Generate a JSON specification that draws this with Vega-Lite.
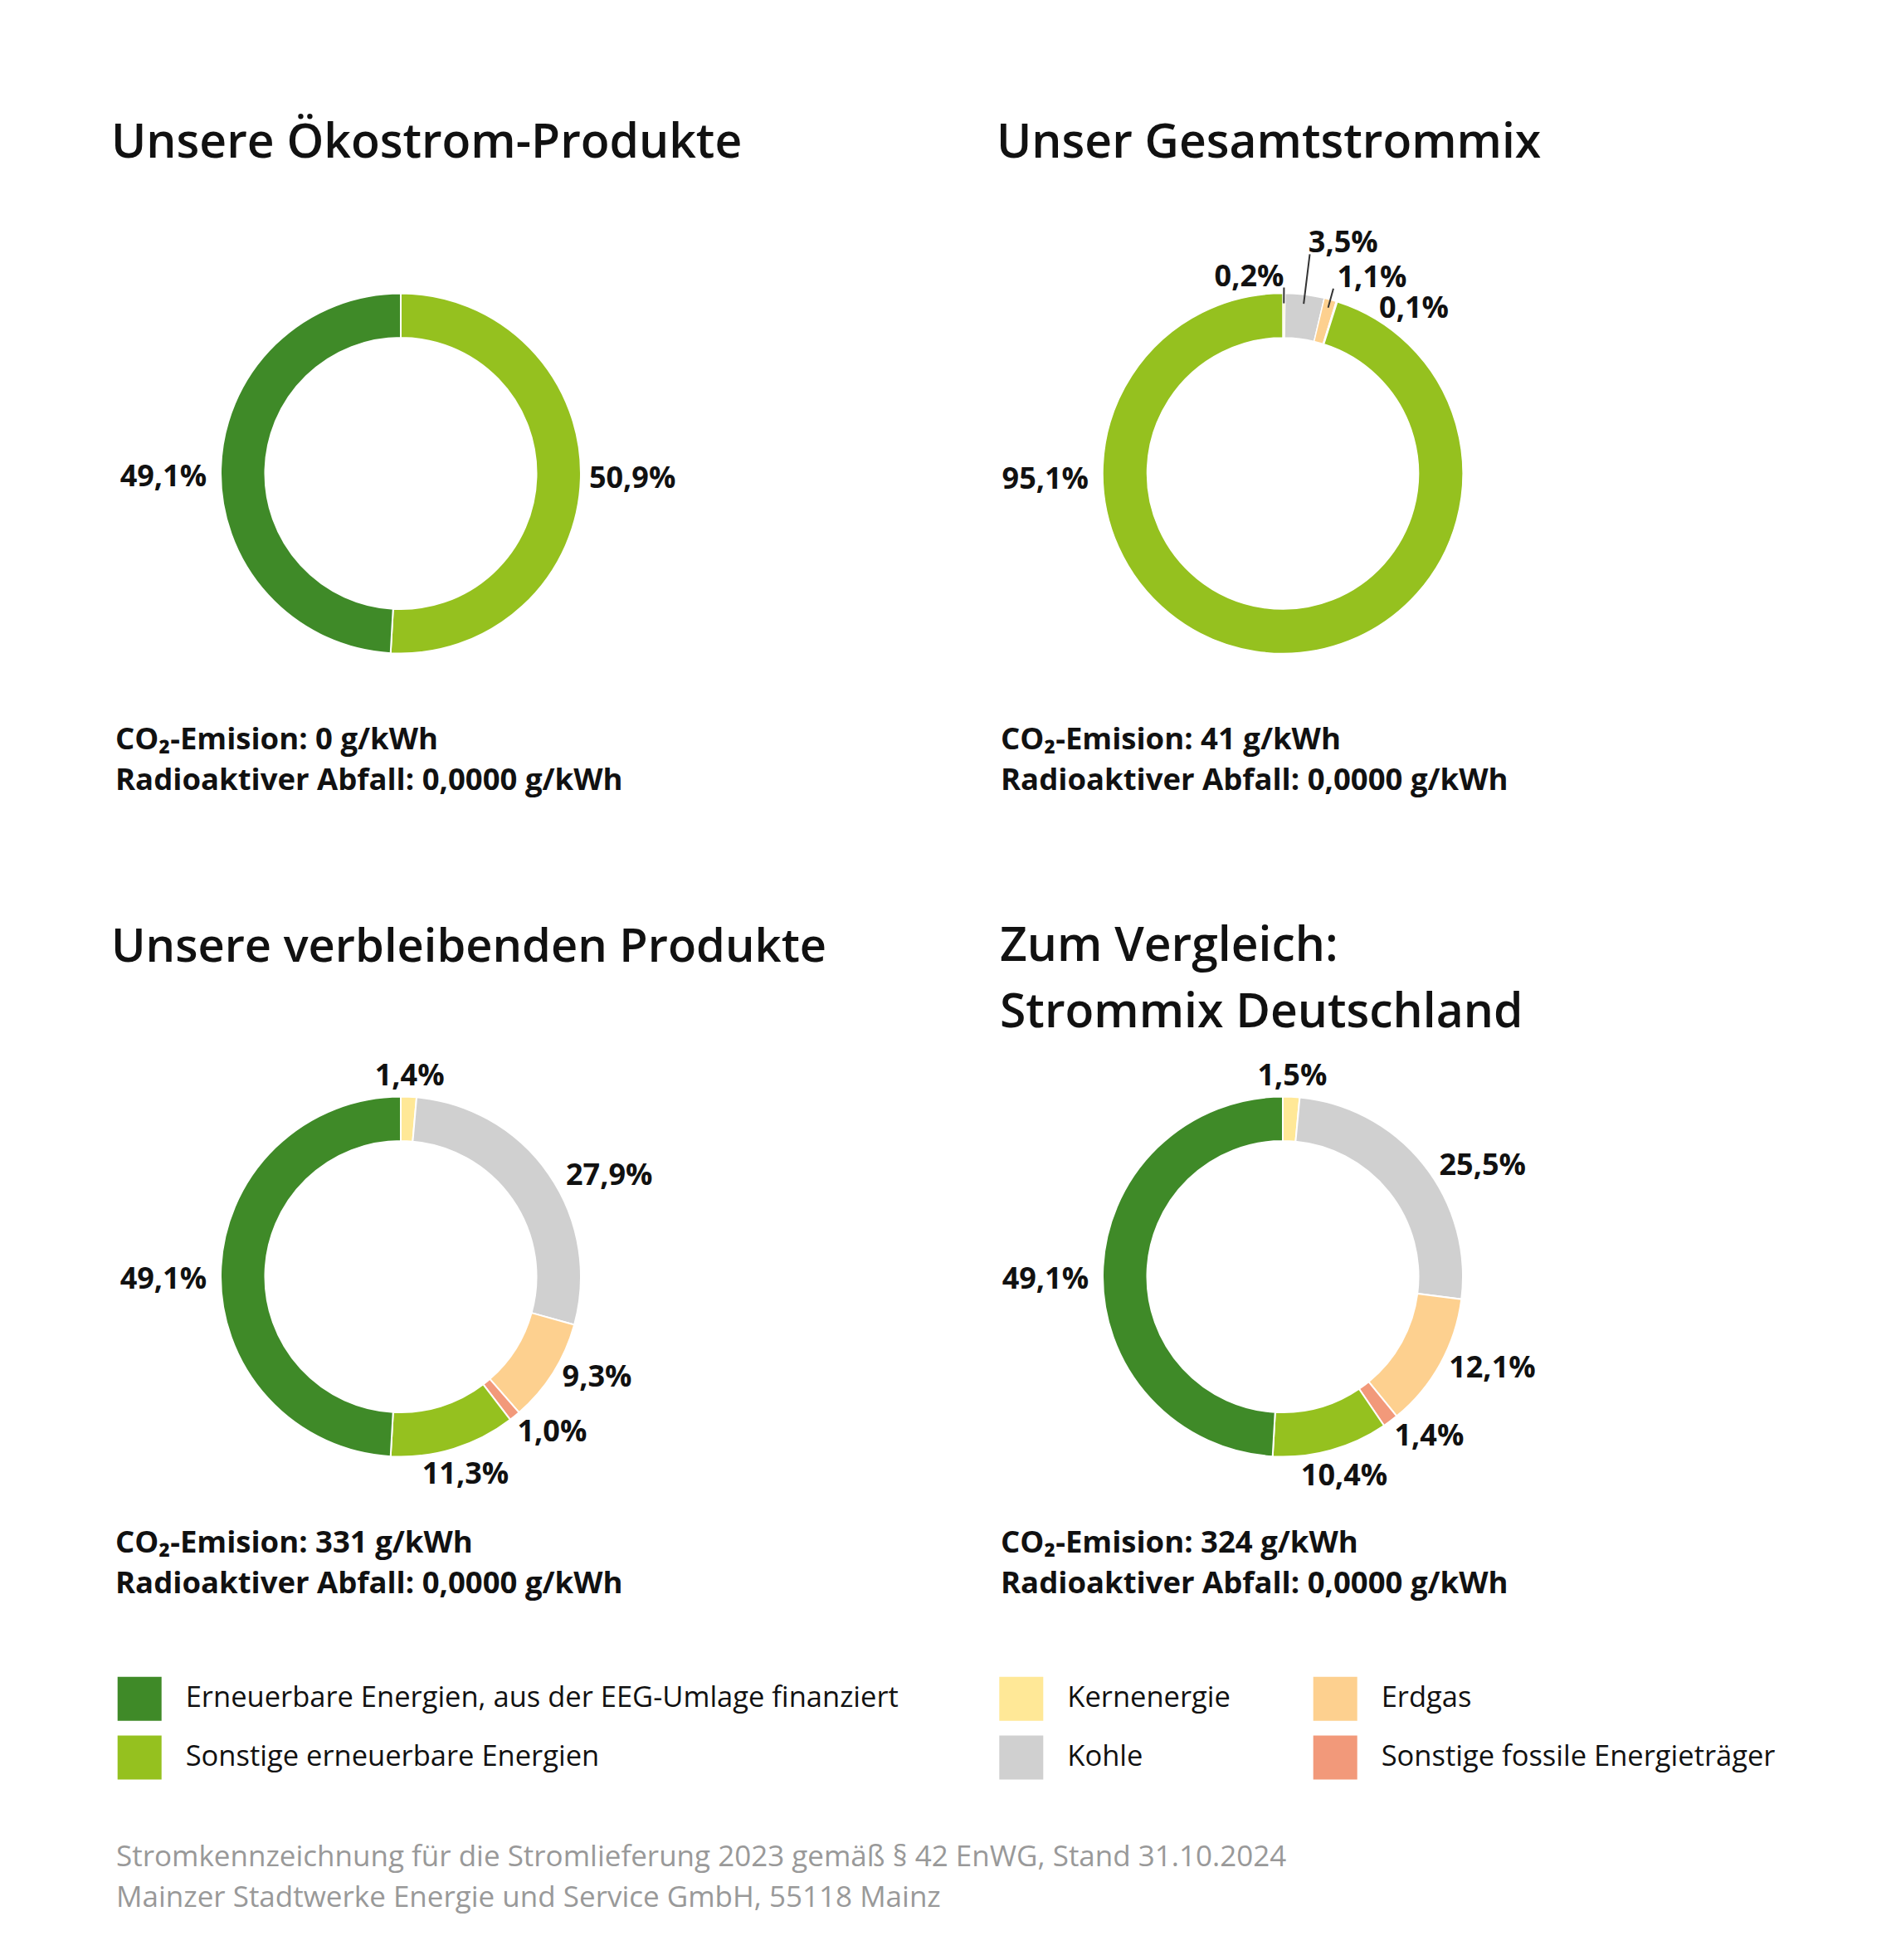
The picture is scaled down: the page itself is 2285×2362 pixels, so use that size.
{
  "$schema": "https://vega.github.io/schema/vega-lite/v6.json",
  "background": "white",
  "padding": {"left": 134, "top": 143.5, "right": 150, "bottom": 40},
  "config": {
    "view": {"stroke": null},
    "font": "Open Sans",
    "title": {"font": "Open Sans", "color": "#111111"},
    "text": {"font": "Open Sans"}
  },
  "title": {"text": ["Stromkennzeichnung für die Stromlieferung 2023 gemäß § 42 EnWG, Stand 31.10.2024", "Mainzer Stadtwerke Energie und Service GmbH, 55118 Mainz"], "orient": "bottom", "anchor": "start", "frame": "group", "baseline": "alphabetic", "fontSize": 35, "fontWeight": "normal", "color": "#999999", "lineHeight": 49, "offset": 104, "dx": 2},
  "datasets": {
    "p1": [
      {"cat": "Sonstige erneuerbare Energien", "k": "son", "v": 50.9, "o": 5, "label": "50,9%"},
      {"cat": "Erneuerbare Energien, aus der EEG-Umlage finanziert", "k": "eeg", "v": 49.1, "o": 6, "label": "49,1%"}
    ],
    "p2": [
      {"cat": "Kernenergie", "k": "kern", "v": 0.2, "o": 1, "label": "0,2%"},
      {"cat": "Kohle", "k": "kohle", "v": 3.5, "o": 2, "label": "3,5%"},
      {"cat": "Erdgas", "k": "gas", "v": 1.1, "o": 3, "label": "1,1%"},
      {"cat": "Sonstige fossile Energieträger", "k": "fos", "v": 0.1, "o": 4, "label": "0,1%"},
      {"cat": "Sonstige erneuerbare Energien", "k": "son", "v": 95.1, "o": 5, "label": "95,1%"}
    ],
    "p3": [
      {"cat": "Kernenergie", "k": "kern", "v": 1.4, "o": 1, "label": "1,4%"},
      {"cat": "Kohle", "k": "kohle", "v": 27.9, "o": 2, "label": "27,9%"},
      {"cat": "Erdgas", "k": "gas", "v": 9.3, "o": 3, "label": "9,3%"},
      {"cat": "Sonstige fossile Energieträger", "k": "fos", "v": 1.0, "o": 4, "label": "1,0%"},
      {"cat": "Sonstige erneuerbare Energien", "k": "son", "v": 11.3, "o": 5, "label": "11,3%"},
      {"cat": "Erneuerbare Energien, aus der EEG-Umlage finanziert", "k": "eeg", "v": 49.1, "o": 6, "label": "49,1%"}
    ],
    "p4": [
      {"cat": "Kernenergie", "k": "kern", "v": 1.5, "o": 1, "label": "1,5%"},
      {"cat": "Kohle", "k": "kohle", "v": 25.5, "o": 2, "label": "25,5%"},
      {"cat": "Erdgas", "k": "gas", "v": 12.1, "o": 3, "label": "12,1%"},
      {"cat": "Sonstige fossile Energieträger", "k": "fos", "v": 1.4, "o": 4, "label": "1,4%"},
      {"cat": "Sonstige erneuerbare Energien", "k": "son", "v": 10.4, "o": 5, "label": "10,4%"},
      {"cat": "Erneuerbare Energien, aus der EEG-Umlage finanziert", "k": "eeg", "v": 49.1, "o": 6, "label": "49,1%"}
    ],
    "e1": [{"co2": "CO₂-Emision: 0 g/kWh", "abfall": "Radioaktiver Abfall: 0,0000 g/kWh"}],
    "e2": [{"co2": "CO₂-Emision: 41 g/kWh", "abfall": "Radioaktiver Abfall: 0,0000 g/kWh"}],
    "e3": [{"co2": "CO₂-Emision: 331 g/kWh", "abfall": "Radioaktiver Abfall: 0,0000 g/kWh"}],
    "e4": [{"co2": "CO₂-Emision: 324 g/kWh", "abfall": "Radioaktiver Abfall: 0,0000 g/kWh"}]
  },
  "resolve": {"scale": {"color": "independent", "theta": "independent"}, "legend": {"color": "independent"}},
  "bounds": "flush",
  "columns": 2,
  "spacing": {"row": 368, "column": 373},
  "concat": [
    {
      "width": 690, "height": 600,
      "data": {"name": "p1"},
      "title": {"text": "Unsere Ökostrom-Produkte", "orient": "top", "anchor": "start", "frame": "group", "baseline": "alphabetic", "fontSize": 57, "fontWeight": 600, "dx": -4, "offset": 24},
      "layer": [
        {"mark": {"type": "arc", "innerRadius": 163.5, "outerRadius": 217, "stroke": "#ffffff", "strokeWidth": 2},
         "encoding": {"theta": {"field": "v", "type": "quantitative", "stack": true}, "order": {"field": "o", "type": "quantitative"},
           "color": {"field": "cat", "type": "nominal",
             "scale": {"domain": ["Erneuerbare Energien, aus der EEG-Umlage finanziert", "Sonstige erneuerbare Energien", "Kernenergie", "Kohle", "Erdgas", "Sonstige fossile Energieträger"], "range": ["#3F8A28", "#95C11F", "#FFE897", "#D0D0D0", "#FDD08F", "#F2997A"]},
             "legend": {"orient": "none", "legendX": 3.7, "legendY": 1750.3, "values": ["Erneuerbare Energien, aus der EEG-Umlage finanziert", "Sonstige erneuerbare Energien"], "title": null, "direction": "vertical", "symbolType": "square", "symbolSize": 2809, "symbolStrokeWidth": 0, "symbolOpacity": 1, "labelFontSize": 34.5, "labelFont": "Open Sans", "labelColor": "#111111", "labelOffset": 29, "labelLimit": 2000, "rowPadding": 17.7, "padding": 0}}}},
        {"mark": {"type": "text", "radius": 230, "align": "left", "baseline": "middle", "dx": -3, "dy": 0, "fontSize": 36, "fontWeight": "bold", "color": "#111111"},
         "encoding": {"theta": {"field": "v", "type": "quantitative", "stack": true}, "order": {"field": "o", "type": "quantitative"}, "detail": {"field": "k", "type": "nominal"}, "text": {"condition": {"test": "datum.k === 'son'", "field": "label", "type": "nominal"}, "value": ""}}},
        {"mark": {"type": "text", "radius": 232, "align": "right", "baseline": "middle", "dx": -2, "dy": 11, "fontSize": 36, "fontWeight": "bold", "color": "#111111"},
         "encoding": {"theta": {"field": "v", "type": "quantitative", "stack": true}, "order": {"field": "o", "type": "quantitative"}, "detail": {"field": "k", "type": "nominal"}, "text": {"condition": {"test": "datum.k === 'eeg'", "field": "label", "type": "nominal"}, "value": ""}}},
        {"data": {"name": "e1"}, "mark": {"type": "text", "align": "left", "baseline": "alphabetic", "dx": -344, "dy": 332, "fontSize": 36.5, "fontWeight": "bold", "color": "#111111"},
         "encoding": {"text": {"field": "co2", "type": "nominal"}}},
        {"data": {"name": "e1"}, "mark": {"type": "text", "align": "left", "baseline": "alphabetic", "dx": -344, "dy": 381.5, "fontSize": 36.5, "fontWeight": "bold", "color": "#111111"},
         "encoding": {"text": {"field": "abfall", "type": "nominal"}}}
      ]
    },
    {
      "width": 690, "height": 600,
      "data": {"name": "p2"},
      "title": {"text": "Unser Gesamtstrommix", "orient": "top", "anchor": "start", "frame": "group", "baseline": "alphabetic", "fontSize": 57, "fontWeight": 600, "dx": 0, "offset": 24},
      "layer": [
        {"mark": {"type": "arc", "innerRadius": 163.5, "outerRadius": 217, "stroke": "#ffffff", "strokeWidth": 1.5},
         "encoding": {"theta": {"field": "v", "type": "quantitative", "stack": true}, "order": {"field": "o", "type": "quantitative"},
           "color": {"field": "cat", "type": "nominal",
             "scale": {"domain": ["Erneuerbare Energien, aus der EEG-Umlage finanziert", "Sonstige erneuerbare Energien", "Kernenergie", "Kohle", "Erdgas", "Sonstige fossile Energieträger"], "range": ["#3F8A28", "#95C11F", "#FFE897", "#D0D0D0", "#FDD08F", "#F2997A"]},
             "legend": {"orient": "none", "legendX": 3.3, "legendY": 1750.3, "values": ["Kernenergie", "Kohle"], "title": null, "direction": "vertical", "symbolType": "square", "symbolSize": 2809, "symbolStrokeWidth": 0, "symbolOpacity": 1, "labelFontSize": 34.5, "labelFont": "Open Sans", "labelColor": "#111111", "labelOffset": 29, "labelLimit": 2000, "rowPadding": 17.7, "padding": 0}}}},
        {"mark": {"type": "arc", "innerRadius": 205, "outerRadius": 224, "padAngle": 0.6, "fillOpacity": 0, "stroke": "#333333", "strokeWidth": 2},
         "encoding": {"theta": {"field": "v", "type": "quantitative", "stack": true}, "order": {"field": "o", "type": "quantitative"}, "detail": {"field": "k", "type": "nominal"}, "strokeOpacity": {"condition": {"test": "datum.k === 'kern'", "value": 1}, "value": 0}}},
        {"mark": {"type": "arc", "innerRadius": 206, "outerRadius": 266, "padAngle": 0.6, "fillOpacity": 0, "stroke": "#333333", "strokeWidth": 2},
         "encoding": {"theta": {"field": "v", "type": "quantitative", "stack": true}, "order": {"field": "o", "type": "quantitative"}, "detail": {"field": "k", "type": "nominal"}, "strokeOpacity": {"condition": {"test": "datum.k === 'kohle'", "value": 1}, "value": 0}}},
        {"mark": {"type": "arc", "innerRadius": 207, "outerRadius": 231, "padAngle": 0.6, "fillOpacity": 0, "stroke": "#333333", "strokeWidth": 2},
         "encoding": {"theta": {"field": "v", "type": "quantitative", "stack": true}, "order": {"field": "o", "type": "quantitative"}, "detail": {"field": "k", "type": "nominal"}, "strokeOpacity": {"condition": {"test": "datum.k === 'gas'", "value": 1}, "value": 0}}},
        {"mark": {"type": "text", "radius": 226, "align": "right", "baseline": "alphabetic", "dx": 0, "fontSize": 36, "fontWeight": "bold", "color": "#111111"},
         "encoding": {"theta": {"field": "v", "type": "quantitative", "stack": true}, "order": {"field": "o", "type": "quantitative"}, "detail": {"field": "k", "type": "nominal"}, "text": {"condition": {"test": "datum.k === 'kern'", "field": "label", "type": "nominal"}, "value": ""}}},
        {"mark": {"type": "text", "radius": 268.5, "align": "left", "baseline": "alphabetic", "dx": -2, "fontSize": 36, "fontWeight": "bold", "color": "#111111"},
         "encoding": {"theta": {"field": "v", "type": "quantitative", "stack": true}, "order": {"field": "o", "type": "quantitative"}, "detail": {"field": "k", "type": "nominal"}, "text": {"condition": {"test": "datum.k === 'kohle'", "field": "label", "type": "nominal"}, "value": ""}}},
        {"mark": {"type": "text", "radius": 233, "align": "left", "baseline": "alphabetic", "dx": 4, "fontSize": 36, "fontWeight": "bold", "color": "#111111"},
         "encoding": {"theta": {"field": "v", "type": "quantitative", "stack": true}, "order": {"field": "o", "type": "quantitative"}, "detail": {"field": "k", "type": "nominal"}, "text": {"condition": {"test": "datum.k === 'gas'", "field": "label", "type": "nominal"}, "value": ""}}},
        {"mark": {"type": "text", "radius": 197, "align": "left", "baseline": "alphabetic", "dx": 57, "fontSize": 36, "fontWeight": "bold", "color": "#111111"},
         "encoding": {"theta": {"field": "v", "type": "quantitative", "stack": true}, "order": {"field": "o", "type": "quantitative"}, "detail": {"field": "k", "type": "nominal"}, "text": {"condition": {"test": "datum.k === 'fos'", "field": "label", "type": "nominal"}, "value": ""}}},
        {"mark": {"type": "text", "radius": 0, "align": "right", "baseline": "middle", "dx": -234, "dy": 7, "fontSize": 36, "fontWeight": "bold", "color": "#111111"},
         "encoding": {"theta": {"field": "v", "type": "quantitative", "stack": true}, "order": {"field": "o", "type": "quantitative"}, "detail": {"field": "k", "type": "nominal"}, "text": {"condition": {"test": "datum.k === 'son'", "field": "label", "type": "nominal"}, "value": ""}}},
        {"data": {"name": "e2"}, "mark": {"type": "text", "align": "left", "baseline": "alphabetic", "dx": -340, "dy": 332, "fontSize": 36.5, "fontWeight": "bold", "color": "#111111"},
         "encoding": {"text": {"field": "co2", "type": "nominal"}}},
        {"data": {"name": "e2"}, "mark": {"type": "text", "align": "left", "baseline": "alphabetic", "dx": -340, "dy": 381.5, "fontSize": 36.5, "fontWeight": "bold", "color": "#111111"},
         "encoding": {"text": {"field": "abfall", "type": "nominal"}}}
      ]
    },
    {
      "width": 690, "height": 600,
      "data": {"name": "p3"},
      "title": {"text": "Unsere verbleibenden Produkte", "orient": "top", "anchor": "start", "frame": "group", "baseline": "alphabetic", "fontSize": 56, "fontWeight": 600, "dx": -4, "offset": 24},
      "layer": [
        {"mark": {"type": "arc", "innerRadius": 163.5, "outerRadius": 217, "stroke": "#ffffff", "strokeWidth": 2},
         "encoding": {"theta": {"field": "v", "type": "quantitative", "stack": true}, "order": {"field": "o", "type": "quantitative"},
           "color": {"field": "cat", "type": "nominal",
             "scale": {"domain": ["Erneuerbare Energien, aus der EEG-Umlage finanziert", "Sonstige erneuerbare Energien", "Kernenergie", "Kohle", "Erdgas", "Sonstige fossile Energieträger"], "range": ["#3F8A28", "#95C11F", "#FFE897", "#D0D0D0", "#FDD08F", "#F2997A"]},
             "legend": {"orient": "none", "legendX": 1444.7, "legendY": 782.3, "values": ["Erdgas", "Sonstige fossile Energieträger"], "title": null, "direction": "vertical", "symbolType": "square", "symbolSize": 2809, "symbolStrokeWidth": 0, "symbolOpacity": 1, "labelFontSize": 34.5, "labelFont": "Open Sans", "labelColor": "#111111", "labelOffset": 29, "labelLimit": 2000, "rowPadding": 17.7, "padding": 0}}}},
        {"mark": {"type": "text", "radius": 242, "align": "center", "baseline": "middle", "fontSize": 36, "fontWeight": "bold", "color": "#111111"},
         "encoding": {"theta": {"field": "v", "type": "quantitative", "stack": true}, "order": {"field": "o", "type": "quantitative"}, "detail": {"field": "k", "type": "nominal"}, "text": {"condition": {"test": "datum.k === 'kern'", "field": "label", "type": "nominal"}, "value": ""}}},
        {"mark": {"type": "text", "radius": 230, "align": "left", "baseline": "middle", "dx": 10, "dy": 10, "fontSize": 36, "fontWeight": "bold", "color": "#111111"},
         "encoding": {"theta": {"field": "v", "type": "quantitative", "stack": true}, "order": {"field": "o", "type": "quantitative"}, "detail": {"field": "k", "type": "nominal"}, "text": {"condition": {"test": "datum.k === 'kohle'", "field": "label", "type": "nominal"}, "value": ""}}},
        {"mark": {"type": "text", "radius": 230, "align": "left", "baseline": "middle", "dx": 0, "dy": -1, "fontSize": 36, "fontWeight": "bold", "color": "#111111"},
         "encoding": {"theta": {"field": "v", "type": "quantitative", "stack": true}, "order": {"field": "o", "type": "quantitative"}, "detail": {"field": "k", "type": "nominal"}, "text": {"condition": {"test": "datum.k === 'gas'", "field": "label", "type": "nominal"}, "value": ""}}},
        {"mark": {"type": "text", "radius": 230, "align": "left", "baseline": "middle", "dx": -5, "dy": 9, "fontSize": 36, "fontWeight": "bold", "color": "#111111"},
         "encoding": {"theta": {"field": "v", "type": "quantitative", "stack": true}, "order": {"field": "o", "type": "quantitative"}, "detail": {"field": "k", "type": "nominal"}, "text": {"condition": {"test": "datum.k === 'fos'", "field": "label", "type": "nominal"}, "value": ""}}},
        {"mark": {"type": "text", "radius": 255, "align": "center", "baseline": "middle", "dx": 3, "dy": -5, "fontSize": 36, "fontWeight": "bold", "color": "#111111"},
         "encoding": {"theta": {"field": "v", "type": "quantitative", "stack": true}, "order": {"field": "o", "type": "quantitative"}, "detail": {"field": "k", "type": "nominal"}, "text": {"condition": {"test": "datum.k === 'son'", "field": "label", "type": "nominal"}, "value": ""}}},
        {"mark": {"type": "text", "radius": 232, "align": "right", "baseline": "middle", "dx": -2, "dy": 10, "fontSize": 36, "fontWeight": "bold", "color": "#111111"},
         "encoding": {"theta": {"field": "v", "type": "quantitative", "stack": true}, "order": {"field": "o", "type": "quantitative"}, "detail": {"field": "k", "type": "nominal"}, "text": {"condition": {"test": "datum.k === 'eeg'", "field": "label", "type": "nominal"}, "value": ""}}},
        {"data": {"name": "e3"}, "mark": {"type": "text", "align": "left", "baseline": "alphabetic", "dx": -344, "dy": 332, "fontSize": 36.5, "fontWeight": "bold", "color": "#111111"},
         "encoding": {"text": {"field": "co2", "type": "nominal"}}},
        {"data": {"name": "e3"}, "mark": {"type": "text", "align": "left", "baseline": "alphabetic", "dx": -344, "dy": 381.5, "fontSize": 36.5, "fontWeight": "bold", "color": "#111111"},
         "encoding": {"text": {"field": "abfall", "type": "nominal"}}}
      ]
    },
    {
      "width": 690, "height": 600,
      "data": {"name": "p4"},
      "title": {"text": ["Zum Vergleich:", "Strommix Deutschland"], "orient": "top", "anchor": "start", "frame": "group", "baseline": "alphabetic", "fontSize": 57, "fontWeight": 600, "lineHeight": 80, "dx": 4, "offset": -56},
      "layer": [
        {"mark": {"type": "arc", "innerRadius": 163.5, "outerRadius": 217, "stroke": "#ffffff", "strokeWidth": 2},
         "encoding": {"theta": {"field": "v", "type": "quantitative", "stack": true}, "order": {"field": "o", "type": "quantitative"},
           "color": {"field": "cat", "type": "nominal", "legend": null,
             "scale": {"domain": ["Erneuerbare Energien, aus der EEG-Umlage finanziert", "Sonstige erneuerbare Energien", "Kernenergie", "Kohle", "Erdgas", "Sonstige fossile Energieträger"], "range": ["#3F8A28", "#95C11F", "#FFE897", "#D0D0D0", "#FDD08F", "#F2997A"]}}}},
        {"mark": {"type": "text", "radius": 242, "align": "center", "baseline": "middle", "fontSize": 36, "fontWeight": "bold", "color": "#111111"},
         "encoding": {"theta": {"field": "v", "type": "quantitative", "stack": true}, "order": {"field": "o", "type": "quantitative"}, "detail": {"field": "k", "type": "nominal"}, "text": {"condition": {"test": "datum.k === 'kern'", "field": "label", "type": "nominal"}, "value": ""}}},
        {"mark": {"type": "text", "radius": 230, "align": "left", "baseline": "middle", "dx": 9, "dy": 10, "fontSize": 36, "fontWeight": "bold", "color": "#111111"},
         "encoding": {"theta": {"field": "v", "type": "quantitative", "stack": true}, "order": {"field": "o", "type": "quantitative"}, "detail": {"field": "k", "type": "nominal"}, "text": {"condition": {"test": "datum.k === 'kohle'", "field": "label", "type": "nominal"}, "value": ""}}},
        {"mark": {"type": "text", "radius": 230, "align": "left", "baseline": "middle", "dx": -1, "dy": -1, "fontSize": 36, "fontWeight": "bold", "color": "#111111"},
         "encoding": {"theta": {"field": "v", "type": "quantitative", "stack": true}, "order": {"field": "o", "type": "quantitative"}, "detail": {"field": "k", "type": "nominal"}, "text": {"condition": {"test": "datum.k === 'gas'", "field": "label", "type": "nominal"}, "value": ""}}},
        {"mark": {"type": "text", "radius": 230, "align": "left", "baseline": "middle", "dx": -3, "dy": 8, "fontSize": 36, "fontWeight": "bold", "color": "#111111"},
         "encoding": {"theta": {"field": "v", "type": "quantitative", "stack": true}, "order": {"field": "o", "type": "quantitative"}, "detail": {"field": "k", "type": "nominal"}, "text": {"condition": {"test": "datum.k === 'fos'", "field": "label", "type": "nominal"}, "value": ""}}},
        {"mark": {"type": "text", "radius": 255, "align": "center", "baseline": "middle", "dx": 6, "dy": -5, "fontSize": 36, "fontWeight": "bold", "color": "#111111"},
         "encoding": {"theta": {"field": "v", "type": "quantitative", "stack": true}, "order": {"field": "o", "type": "quantitative"}, "detail": {"field": "k", "type": "nominal"}, "text": {"condition": {"test": "datum.k === 'son'", "field": "label", "type": "nominal"}, "value": ""}}},
        {"mark": {"type": "text", "radius": 232, "align": "right", "baseline": "middle", "dx": -2, "dy": 10, "fontSize": 36, "fontWeight": "bold", "color": "#111111"},
         "encoding": {"theta": {"field": "v", "type": "quantitative", "stack": true}, "order": {"field": "o", "type": "quantitative"}, "detail": {"field": "k", "type": "nominal"}, "text": {"condition": {"test": "datum.k === 'eeg'", "field": "label", "type": "nominal"}, "value": ""}}},
        {"data": {"name": "e4"}, "mark": {"type": "text", "align": "left", "baseline": "alphabetic", "dx": -340, "dy": 332, "fontSize": 36.5, "fontWeight": "bold", "color": "#111111"},
         "encoding": {"text": {"field": "co2", "type": "nominal"}}},
        {"data": {"name": "e4"}, "mark": {"type": "text", "align": "left", "baseline": "alphabetic", "dx": -340, "dy": 381.5, "fontSize": 36.5, "fontWeight": "bold", "color": "#111111"},
         "encoding": {"text": {"field": "abfall", "type": "nominal"}}}
      ]
    }
  ]
}
